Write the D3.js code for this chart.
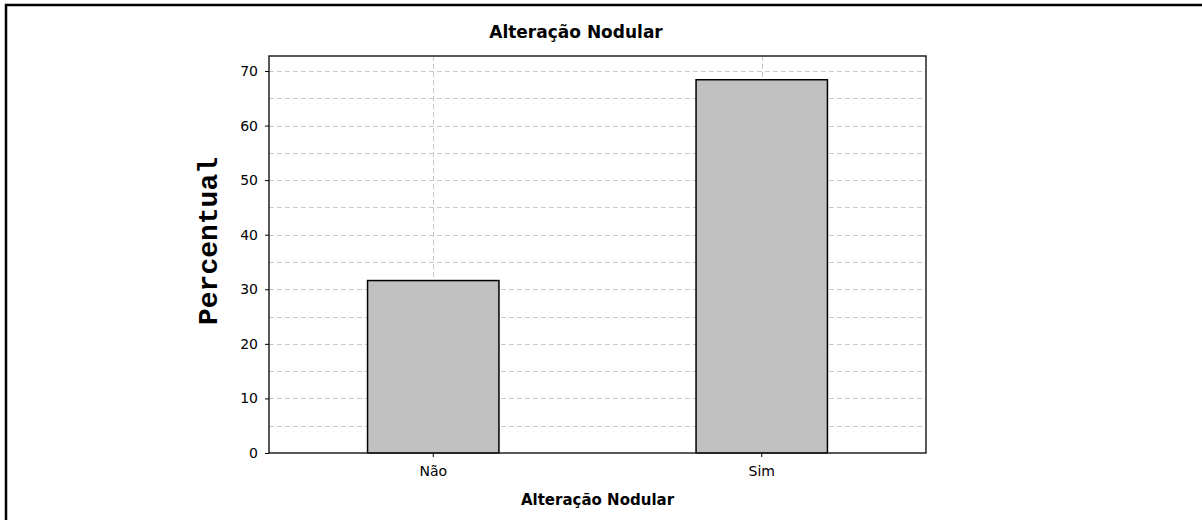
<!DOCTYPE html>
<html>
<head>
<meta charset="utf-8">
<script src="https://cdn.jsdelivr.net/npm/d3@7"></script>
<style>
  body { margin: 0; background: #fff; }
  .tick text { font-family: "DejaVu Sans", Tahoma, sans-serif; font-size: 14px; fill: #000; }
  .grid line { stroke: #c8c8c8; stroke-dasharray: 5,3; }
</style>
</head>
<body>
<div id="chart"></div>
<script>
  var categories = ["Não", "Sim"];
  var values = [31.6, 68.4];
  var yTicks = [0, 10, 20, 30, 40, 50, 60, 70];
  var yGridTicks = [5, 10, 15, 20, 25, 30, 35, 40, 45, 50, 55, 60, 65, 70];
  var titleText = "Alteração Nodular";
  var xLabelText = "Alteração Nodular";
  var yLabelText = "Percentual";

  var width = 1202,
      height = 520,
      margin = {top: 56, right: 276, bottom: 67, left: 269};
  var plotW = width - margin.left - margin.right,
      plotH = height - margin.top - margin.bottom;

  var svg = d3.select("#chart")
    .append("svg")
    .attr("width", width)
    .attr("height", height);

  // outer frame (only top/left edges fall inside the window)
  svg.append("rect")
    .attr("x", 6).attr("y", 5)
    .attr("width", width + 20).attr("height", height + 20)
    .attr("fill", "none")
    .attr("stroke", "#000")
    .attr("stroke-width", 2.5);

  var x = d3.scaleBand()
    .domain(categories)
    .range([0, plotW])
    .paddingInner(0.6)
    .paddingOuter(0.3);

  var y = d3.scaleLinear()
    .domain([0, 72.75])
    .range([plotH, 0]);

  var g = svg.append("g")
    .attr("transform", "translate(" + margin.left + "," + margin.top + ")");

  // horizontal grid
  g.append("g")
    .attr("class", "grid")
    .selectAll("line")
    .data(yGridTicks)
    .enter().append("line")
    .attr("x1", 0).attr("x2", plotW)
    .attr("y1", function(d) { return Math.round(y(d)) + 0.5; })
    .attr("y2", function(d) { return Math.round(y(d)) + 0.5; });

  // vertical grid at category centres
  g.append("g")
    .attr("class", "grid")
    .selectAll("line")
    .data(categories)
    .enter().append("line")
    .attr("y1", 0).attr("y2", plotH)
    .attr("x1", function(d) { return Math.round(x(d) + x.bandwidth() / 2) + 0.5; })
    .attr("x2", function(d) { return Math.round(x(d) + x.bandwidth() / 2) + 0.5; });

  // bars
  g.selectAll(".bar")
    .data(values)
    .enter().append("rect")
    .attr("class", "bar")
    .attr("x", function(d, i) { return x(categories[i]); })
    .attr("y", function(d) { return y(d); })
    .attr("width", x.bandwidth())
    .attr("height", function(d) { return plotH - y(d); })
    .attr("fill", "#c0c0c0")
    .attr("stroke", "#000")
    .attr("stroke-width", 1.5);

  // plot border
  g.append("rect")
    .attr("width", plotW).attr("height", plotH)
    .attr("fill", "none")
    .attr("stroke", "#222")
    .attr("stroke-width", 1.5);

  var yAxis = g.append("g")
    .call(d3.axisLeft(y).tickValues(yTicks).tickSize(4).tickPadding(7));
  yAxis.select(".domain").remove();
  yAxis.selectAll(".tick line").attr("stroke", "#000");

  var xAxis = g.append("g")
    .attr("transform", "translate(0," + plotH + ")")
    .call(d3.axisBottom(x).tickSize(4).tickPadding(9));
  xAxis.select(".domain").remove();
  xAxis.selectAll(".tick line").attr("stroke", "#000");

  svg.append("text")
    .attr("x", 576).attr("y", 38)
    .attr("text-anchor", "middle")
    .style("font-family", "'DejaVu Sans', sans-serif")
    .style("font-weight", "bold")
    .style("font-size", "17px")
    .text(titleText);

  svg.append("text")
    .attr("x", margin.left + plotW / 2).attr("y", 505)
    .attr("text-anchor", "middle")
    .style("font-family", "'DejaVu Sans', sans-serif")
    .style("font-weight", "bold")
    .style("font-size", "15px")
    .text(xLabelText);

  svg.append("text")
    .attr("transform", "translate(217,241) rotate(-90)")
    .attr("text-anchor", "middle")
    .style("font-family", "'Liberation Mono', 'Courier New', monospace")
    .style("font-weight", "bold")
    .style("font-size", "28px")
    .text(yLabelText);
</script>
</body>
</html>
